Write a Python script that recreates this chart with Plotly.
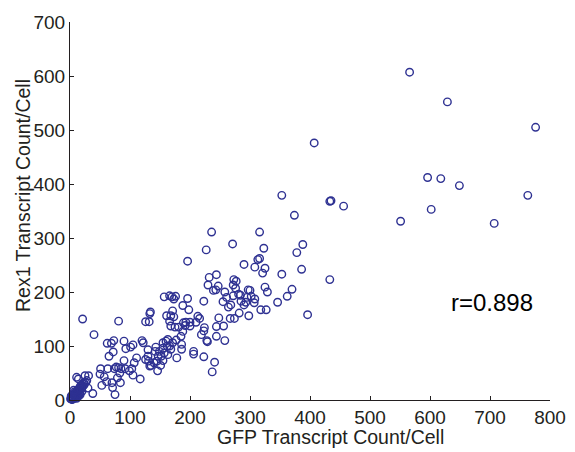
import plotly.graph_objects as go

# GFP (x) and Rex1 (y) transcript counts per cell
gfp = [566, 629, 776, 596, 618, 649, 763, 602, 551, 707, 407, 433, 456,
       353, 435, 374, 236, 316, 271, 388, 227, 323, 378, 196, 313, 316, 290,
       308, 325, 321, 386, 353, 433, 232, 244, 230, 247, 239, 243, 258, 273,
       277, 272, 276, 281, 297, 300, 325, 329, 370, 362, 346, 396, 157, 166,
       170, 176, 173, 196, 188, 198, 223, 255, 261, 268, 264, 272, 284, 285,
       290, 293, 295, 302, 308, 307, 318, 327, 282, 298, 274, 267, 248, 256,
       244, 244, 258, 229, 228, 223, 241, 237, 206, 206, 213, 216, 210, 224,
       223, 219, 200, 193, 189, 192, 200, 181, 175, 188, 185, 177, 186, 186,
       178, 134, 133, 126, 132, 161, 168, 173, 171, 166, 168, 21, 81, 40, 62,
       69, 73, 90, 93, 101, 105, 120, 122, 130, 143, 72, 65, 90, 111, 107,
       103, 117, 130, 131, 135, 146, 151, 155, 147, 142, 149, 155, 155, 160,
       163, 162, 163, 166, 168, 171, 157, 152, 145, 140, 133, 126, 74, 77,
       81, 85, 83, 79, 84, 70, 71, 75, 63, 51, 50, 57, 61, 53, 105, 92, 99,
       31, 14, 38, 11, 25, 28,
       2, 3, 4, 5, 6, 7, 8, 9, 10, 11, 12, 13, 14, 15, 16, 17, 18, 19, 20,
       21, 22, 23, 24, 1, 3, 5, 6, 8, 10, 12, 14, 16, 18, 20, 9, 13, 17, 4,
       7, 11, 15, 19, 2, 6, 26, 30]
rex1 = [607, 552, 505, 412, 410, 397, 379, 353, 331, 327, 476, 368, 359,
        379, 369, 342, 311, 311, 289, 288, 278, 281, 273, 257, 260, 262, 251,
        246, 244, 235, 242, 233, 223, 227, 232, 213, 211, 203, 204, 200, 223,
        220, 213, 207, 196, 204, 203, 209, 200, 205, 192, 181, 158, 191, 193,
        191, 192, 187, 188, 175, 167, 183, 182, 190, 176, 172, 193, 194, 183,
        176, 181, 190, 192, 187, 180, 167, 167, 161, 156, 151, 151, 152, 137,
        136, 118, 110, 108, 110, 80, 70, 52, 90, 85, 155, 151, 144, 134, 128,
        121, 144, 144, 143, 138, 137, 135, 135, 127, 118, 111, 103, 94, 78,
        163, 160, 145, 145, 156, 156, 154, 165, 146, 137, 150, 146, 121, 105,
        105, 110, 109, 95, 98, 102, 110, 106, 93, 98, 89, 81, 73, 78, 69, 58,
        39, 81, 72, 64, 54, 64, 73, 81, 90, 90, 96, 106, 109, 112, 100, 84,
        100, 94, 106, 87, 81, 72, 69, 63, 75, 58, 61, 60, 58, 50, 41, 32, 32,
        23, 10, 58, 58, 48, 43, 34, 27, 46, 58, 54, 45, 39, 12, 42, 45, 36,
        3, 1, 6, 4, 9, 7, 12, 10, 14, 16, 13, 18, 20, 17, 22, 25, 21, 28, 24,
        30, 26, 32, 29, 2, 8, 2, 11, 5, 14, 9, 19, 12, 24, 16, 4, 6, 10, 1,
        15, 3, 8, 20, 7, 18, 33, 22]

x_ticks = [0, 100, 200, 300, 400, 500, 600, 700, 800]
y_ticks = [0, 100, 200, 300, 400, 500, 600, 700]
x_title = "GFP Transcript Count/Cell"
y_title = "Rex1 Transcript Count/Cell"
r_label = "r=0.898"

font = "Liberation Sans, Arial, Helvetica, sans-serif"
ink = "#231f20"

W, H = 575, 452
ML, MR, MT, MB = 70, 25, 22, 52

fig = go.Figure(go.Scatter(
    x=gfp, y=rex1, mode="markers", cliponaxis=False,
    marker=dict(symbol="circle-open", size=7.5, color="#2e3192",
                line=dict(width=1.4, color="#2e3192")),
    showlegend=False,
))

axis_common = dict(showline=True, linecolor=ink, linewidth=1, showgrid=False,
                   zeroline=False, ticks="inside", ticklen=4, tickcolor=ink,
                   automargin=False,
                   tickfont=dict(family=font, size=19, color=ink))

fig.update_xaxes(range=[0, 800], tickvals=x_ticks, **axis_common)
fig.update_yaxes(range=[0, 700], tickvals=y_ticks, **axis_common)

# axis titles as annotations in pixel-derived paper coordinates
pw, ph = W - ML - MR, H - MT - MB
fig.add_annotation(xref="paper", yref="paper",
                   x=(330 - ML) / pw, y=(H - MB - 437) / ph,
                   xanchor="center", yanchor="middle",
                   text=x_title, showarrow=False,
                   font=dict(family=font, size=19.5, color=ink))
fig.add_annotation(xref="paper", yref="paper",
                   x=(23 - ML) / pw, y=(H - MB - 196) / ph, textangle=-90,
                   xanchor="center", yanchor="middle",
                   text=y_title, showarrow=False,
                   font=dict(family=font, size=19.5, color=ink))

fig.add_annotation(x=703, y=181, text=r_label, showarrow=False,
                   xanchor="center", yanchor="middle",
                   font=dict(family=font, size=24, color="#000000"))

fig.update_layout(width=W, height=H, plot_bgcolor="white",
                  paper_bgcolor="white",
                  margin=dict(l=ML, r=MR, t=MT, b=MB, autoexpand=False))

fig.write_html("out.html", config={"displayModeBar": False},
               post_script="document.body.style.margin='0';"
                           "document.body.style.overflow='hidden';")
